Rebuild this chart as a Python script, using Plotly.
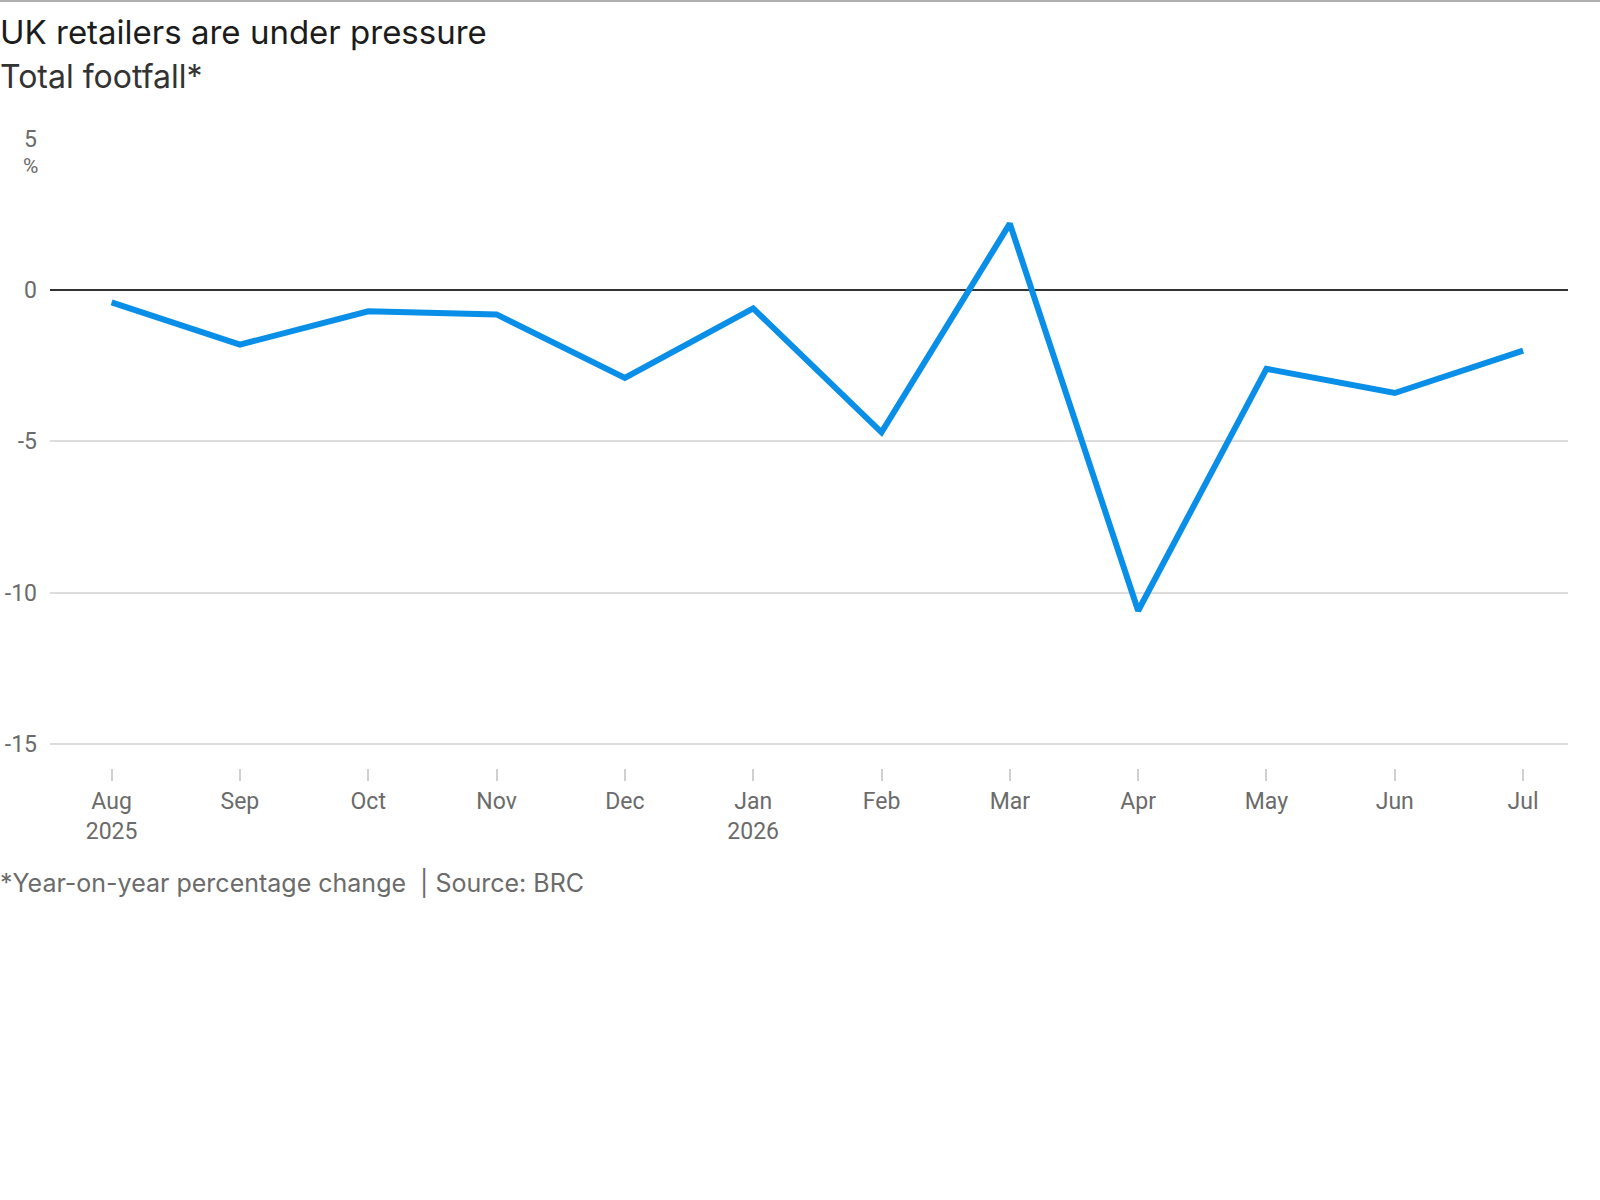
import plotly.graph_objects as go

# monthly footfall, year-on-year % change (BRC)
months = ["Aug<br>2025", "Sep", "Oct", "Nov", "Dec", "Jan<br>2026",
          "Feb", "Mar", "Apr", "May", "Jun", "Jul"]
footfall = [-0.4, -1.8, -0.7, -0.8, -2.9, -0.6, -4.7, 2.2, -10.6, -2.6, -3.4, -2.0]
y_ticks = [5, 0, -5, -10, -15]

W, H = 1600, 1200
L, R, T, B = 50, 32, 139, 432
pw, ph = W - L - R, H - T - B

grey = "#6b6b6b"
ticks_font = "Roboto, Liberation Sans, sans-serif"
sans = "Inter, Roboto, Liberation Sans, sans-serif"

fig = go.Figure(go.Scatter(
    x=months, y=footfall, mode="lines",
    line=dict(color="#0a8fe8", width=6, shape="linear"),
    hoverinfo="skip",
))

fig.update_layout(
    width=W, height=H,
    margin=dict(l=L, r=R, t=T, b=B),
    paper_bgcolor="white", plot_bgcolor="white",
    showlegend=False,
    font=dict(family=ticks_font, color=grey),
)
fig.update_xaxes(
    type="category", range=[-0.48, 11.35], automargin=False,
    showgrid=False, showline=False, zeroline=False,
    ticks="outside", ticklen=12, tickwidth=2, tickcolor="#d0d0d0",
    tickfont=dict(size=23, color=grey, family=ticks_font),
)
fig.update_yaxes(
    range=[-15.8, 5], tickvals=y_ticks, ticktext=[str(v) for v in y_ticks],
    automargin=False,
    showgrid=True, gridcolor="#dddddd", gridwidth=2,
    zeroline=True, zerolinecolor="#333333", zerolinewidth=2,
    showline=False, ticks="", ticklabelstandoff=12,
    tickfont=dict(size=23, color=grey, family=ticks_font),
)

def ann(text, xpx, ypx, size, color, family, xanchor="left"):
    fig.add_annotation(
        text=text, xref="paper", yref="paper", x=0, y=1,
        xshift=xpx - L, yshift=T - ypx, xanchor=xanchor, yanchor="middle",
        showarrow=False, font=dict(size=size, color=color, family=family),
    )

ann("UK retailers are under pressure", -2, 32, 33, "#1c1c1c", sans)
ann("Total footfall*", -2, 76, 32, "#333333", sans)
ann("%", 30, 166, 21, grey, ticks_font, xanchor="center")
ann("*Year-on-year percentage change &nbsp;| Source: BRC", -2, 883, 25, grey, sans)

# thin grey rule across the top
fig.add_shape(type="line", xref="paper", yref="paper",
              x0=-L / pw, x1=1 + R / pw, y0=1 + (T - 1) / ph, y1=1 + (T - 1) / ph,
              line=dict(color="#b0b0b0", width=2))

fig.write_html("out.html", config={"displayModeBar": False},
               post_script="document.body.style.margin='0';"
                           "document.body.style.overflow='hidden';")
